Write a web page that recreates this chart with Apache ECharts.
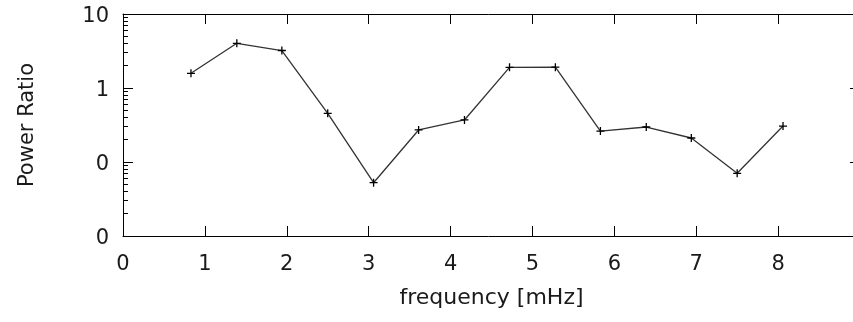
<!DOCTYPE html>
<html>
<head>
<meta charset="utf-8">
<script src="https://cdn.jsdelivr.net/npm/echarts@6/dist/echarts.min.js"></script>
<style>
html,body{margin:0;padding:0;background:#fff;}
#chart{width:853px;height:322px;}
</style>
</head>
<body>
<div id="chart"></div>
<script>
// frequency [mHz]
var frequency = [0.83, 1.39, 1.94, 2.50, 3.06, 3.61, 4.17, 4.72, 5.28, 5.83, 6.39, 6.94, 7.50, 8.06];
// Power Ratio
var powerRatio = [1.58, 4.02, 3.21, 0.455, 0.0525, 0.271, 0.37, 1.90, 1.91, 0.262, 0.297, 0.211, 0.0704, 0.306];
// x tick labels shown
var xTickLabels = ['0', '1', '2', '3', '4', '5', '6', '7', '8'];
// y axis range / minor tick values (log scale)
var yMin = 0.01, yMax = 10;
var yMinorTicks = [0.02,0.03,0.04,0.05,0.06,0.07,0.08,0.09,0.2,0.3,0.4,0.5,0.6,0.7,0.8,0.9,2,3,4,5,6,7,8,9];

var points = frequency.map(function (f, i) { return [f, powerRatio[i]]; });

var font = 'DejaVu Sans';
var textColor = '#1a1a1a';
var lineStyleAxis = { color: '#000', width: 1 };

var chart = echarts.init(document.getElementById('chart'), null, { renderer: 'canvas' });
chart.setOption({
  animation: false,
  grid: { left: 123, top: 14, width: 737, height: 222, containLabel: false, outerBoundsMode: 'none' },
  xAxis: [
    {
      type: 'value', position: 'bottom', min: 0, max: 9, interval: 1,
      name: 'frequency [mHz]', nameLocation: 'middle', nameGap: 51,
      nameTextStyle: { fontFamily: font, fontSize: 22, color: textColor },
      axisLine: { show: true, onZero: false, lineStyle: lineStyleAxis },
      axisTick: { show: true, inside: true, length: 10, lineStyle: lineStyleAxis },
      axisLabel: {
        margin: 18, fontFamily: font, fontSize: 21, color: textColor,
        formatter: function (v) { var i = Math.round(v); return i < xTickLabels.length ? xTickLabels[i] : ''; }
      },
      splitLine: { show: false }
    },
    {
      type: 'value', position: 'top', min: 0, max: 9, interval: 1,
      axisLine: { show: true, onZero: false, lineStyle: lineStyleAxis },
      axisTick: { show: true, inside: true, length: 10, lineStyle: lineStyleAxis },
      axisLabel: { show: false },
      splitLine: { show: false }
    }
  ],
  yAxis: [
    {
      type: 'log', logBase: 10, position: 'left', min: yMin, max: yMax,
      name: 'Power Ratio', nameLocation: 'middle', nameGap: 85, nameRotate: 90,
      nameTextStyle: { fontFamily: font, fontSize: 21, color: textColor },
      axisLine: { show: true, onZero: false, lineStyle: lineStyleAxis },
      axisTick: { show: true, inside: true, length: 10, lineStyle: lineStyleAxis },
      axisLabel: {
        margin: 14, fontFamily: font, fontSize: 21, color: textColor,
        formatter: function (v) { return '{a|' + String(Math.round(v)) + '}'; },
        rich: { a: { fontFamily: font, fontSize: 21, color: textColor, padding: [5, 0, 0, 0] } }
      },
      splitLine: { show: false }
    },
    {
      type: 'log', logBase: 10, position: 'left', min: yMin, max: yMax,
      axisLine: { show: false },
      axisTick: { show: true, inside: true, length: 5, lineStyle: lineStyleAxis, customValues: yMinorTicks },
      axisLabel: { show: false },
      splitLine: { show: false }
    },
    {
      type: 'log', logBase: 10, position: 'right', min: yMin, max: yMax,
      axisLine: { show: true, onZero: false, lineStyle: lineStyleAxis },
      axisTick: { show: true, inside: true, length: 10, lineStyle: lineStyleAxis },
      axisLabel: { show: false },
      splitLine: { show: false }
    }
  ],
  series: [
    {
      type: 'line',
      xAxisIndex: 0, yAxisIndex: 0,
      data: points,
      symbol: 'path://M0,5L10,5M5,0L5,10',
      symbolSize: 8,
      showSymbol: true,
      lineStyle: { color: '#333', width: 1.3 },
      itemStyle: { color: '#000', borderColor: '#000', borderWidth: 1.3 },
      emphasis: { disabled: true },
      silent: true
    }
  ]
});
</script>
</body>
</html>
